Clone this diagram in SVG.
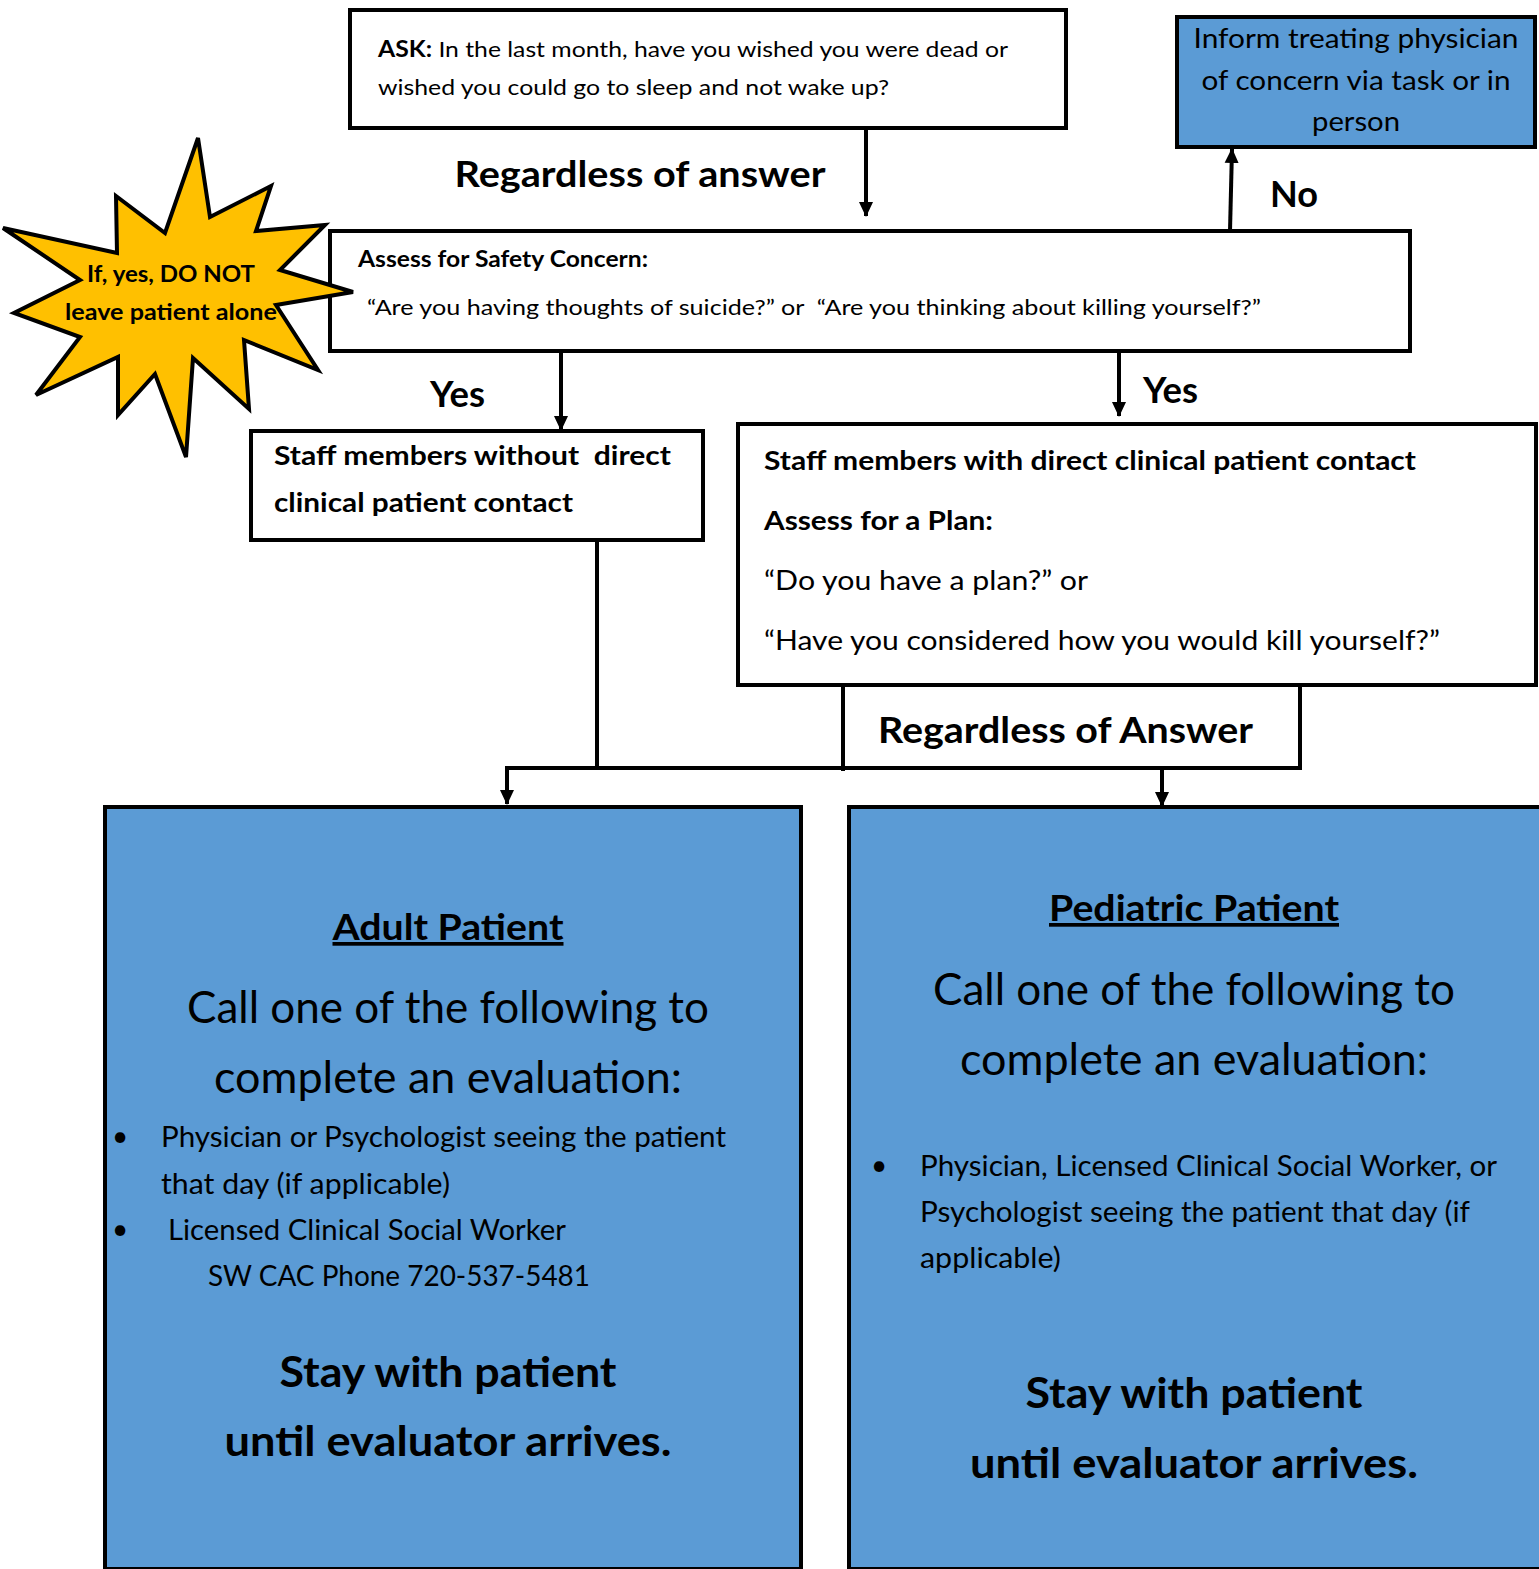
<svg xmlns="http://www.w3.org/2000/svg" width="1539" height="1569" viewBox="0 0 1539 1569">
<style>
text{font-family:Lato,"Open Sans","Liberation Sans",sans-serif;fill:#000}
.b{font-weight:bold}
.pre{white-space:pre}
.box{fill:#fff;stroke:#000;stroke-width:4}
.blue{fill:#5B9BD5;stroke:#000;stroke-width:4}
.star{fill:#FFC000;stroke:#000;stroke-width:4;stroke-linejoin:miter}
.ln{fill:none;stroke:#000;stroke-width:4}
.arr{fill:none;stroke:#000;stroke-width:4;marker-end:url(#ah)}
.lbl{font-size:37px;font-weight:bold}
.s22{font-size:22px}
.s26{font-size:26px}
.s28{font-size:28px}
.s44{font-size:44px}
.s42{font-size:42px;font-weight:bold}
.m{text-anchor:middle}
</style>
<defs>
<marker id="ah" markerUnits="userSpaceOnUse" markerWidth="15" markerHeight="16" refX="14" refY="7" orient="auto" viewBox="0 0 15 14">
<path d="M0,0 L15,7 L0,14 z" fill="#000"/>
</marker>
</defs>
<rect width="1539" height="1569" fill="#fff"/>

<g id="connectors">
<line class="arr" x1="866" y1="128" x2="866" y2="216"/>
<line class="arr" x1="1230" y1="231" x2="1232" y2="149"/>
<line class="arr" x1="561" y1="351" x2="561" y2="430"/>
<line class="arr" x1="1119" y1="351" x2="1119" y2="416"/>
<line class="ln" x1="597" y1="538" x2="597" y2="768"/>
<line class="ln" x1="505" y1="768" x2="1302" y2="768"/>
<line class="ln" x1="843" y1="685" x2="843" y2="771"/>
<line class="ln" x1="1300" y1="685" x2="1300" y2="770"/>
<line class="arr" x1="507" y1="766" x2="507" y2="804"/>
<line class="arr" x1="1162" y1="766" x2="1162" y2="806"/>
<text class="lbl" x="640" y="187" textLength="371" lengthAdjust="spacingAndGlyphs" text-anchor="middle">Regardless of answer</text>
<text class="lbl" x="1270" y="207" textLength="48" lengthAdjust="spacingAndGlyphs">No</text>
<text class="lbl" x="430" y="407" textLength="55" lengthAdjust="spacingAndGlyphs">Yes</text>
<text class="lbl" x="1143" y="403" textLength="55" lengthAdjust="spacingAndGlyphs">Yes</text>
<text class="lbl" x="878" y="743" textLength="375" lengthAdjust="spacingAndGlyphs">Regardless of Answer</text>
</g>

<g id="ask">
<rect class="box" x="350" y="10" width="716" height="118"/>
<text class="s22" x="378" y="57" textLength="630" lengthAdjust="spacingAndGlyphs"><tspan class="b">ASK:</tspan> In the last month, have you wished you were dead or</text>
<text class="s22" x="378" y="95" textLength="511" lengthAdjust="spacingAndGlyphs">wished you could go to sleep and not wake up?</text>
</g>

<g id="inform">
<rect class="blue" x="1177" y="17" width="358" height="130"/>
<text class="s26 m" x="1356" y="48" textLength="325" lengthAdjust="spacingAndGlyphs">Inform treating physician</text>
<text class="s26 m" x="1356" y="90" textLength="309" lengthAdjust="spacingAndGlyphs">of concern via task or in</text>
<text class="s26 m" x="1356" y="131" textLength="88" lengthAdjust="spacingAndGlyphs">person</text>
</g>

<g id="safety">
<rect class="box" x="330" y="231" width="1080" height="120"/>
<text class="s22 b" x="358" y="267" textLength="290" lengthAdjust="spacingAndGlyphs">Assess for Safety Concern:</text>
<text class="s22 pre" x="367" y="315" textLength="894" lengthAdjust="spacingAndGlyphs">“Are you having thoughts of suicide?” or  “Are you thinking about killing yourself?”</text>
</g>

<g id="star">
<polygon class="star" points="198,138 210,217 271,186 256,231 325,225 280,270 353,292 276,305 318,370 244,340 249,409 193,358 186,457 155,374 118,415 118,357 36,395 80,337 14,313 80,280 3,228 117,253 116,196 165,233"/>
<text class="s22 b m" x="171" y="282" textLength="168" lengthAdjust="spacingAndGlyphs">If, yes, DO NOT</text>
<text class="s22 b m" x="171" y="320" textLength="212" lengthAdjust="spacingAndGlyphs">leave patient alone</text>
</g>

<g id="staff-without">
<rect class="box" x="251" y="431" width="452" height="109"/>
<text class="s26 b pre" x="274" y="465" textLength="397" lengthAdjust="spacingAndGlyphs">Staff members without  direct</text>
<text class="s26 b" x="274" y="512" textLength="299" lengthAdjust="spacingAndGlyphs">clinical patient contact</text>
</g>

<g id="staff-with">
<rect class="box" x="738" y="424" width="798" height="261"/>
<text class="s26 b" x="764" y="470" textLength="652" lengthAdjust="spacingAndGlyphs">Staff members with direct clinical patient contact</text>
<text class="s26 b" x="764" y="530" textLength="229" lengthAdjust="spacingAndGlyphs">Assess for a Plan:</text>
<text class="s26" x="764" y="590" textLength="324" lengthAdjust="spacingAndGlyphs">“Do you have a plan?” or</text>
<text class="s26" x="764" y="650" textLength="676" lengthAdjust="spacingAndGlyphs">“Have you considered how you would kill yourself?”</text>
</g>

<g id="adult">
<rect class="blue" x="105" y="807" width="696" height="762"/>
<text class="b m" font-size="37" x="448" y="940" textLength="231" lengthAdjust="spacingAndGlyphs" text-decoration="underline">Adult Patient</text>
<text class="s44 m" x="448" y="1023" textLength="522" lengthAdjust="spacingAndGlyphs">Call one of the following to</text>
<text class="s44 m" x="448" y="1093" textLength="468" lengthAdjust="spacingAndGlyphs">complete an evaluation:</text>
<text class="s28" x="112" y="1146">•</text>
<text class="s28" x="161" y="1147" textLength="565" lengthAdjust="spacingAndGlyphs">Physician or Psychologist seeing the patient</text>
<text class="s28" x="161" y="1194" textLength="289" lengthAdjust="spacingAndGlyphs">that day (if applicable)</text>
<text class="s28" x="112" y="1239">•</text>
<text class="s28" x="168" y="1240" textLength="398" lengthAdjust="spacingAndGlyphs">Licensed Clinical Social Worker</text>
<text class="s28" x="208" y="1286" textLength="382" lengthAdjust="spacingAndGlyphs">SW CAC Phone 720-537-5481</text>
<text class="s42 m" x="448" y="1387" textLength="337" lengthAdjust="spacingAndGlyphs">Stay with patient</text>
<text class="s42 m" x="448" y="1456" textLength="447" lengthAdjust="spacingAndGlyphs">until evaluator arrives.</text>
</g>

<g id="pediatric">
<rect class="blue" x="849" y="807" width="696" height="762"/>
<text class="b m" font-size="37" x="1194" y="921" textLength="290" lengthAdjust="spacingAndGlyphs" text-decoration="underline">Pediatric Patient</text>
<text class="s44 m" x="1194" y="1005" textLength="522" lengthAdjust="spacingAndGlyphs">Call one of the following to</text>
<text class="s44 m" x="1194" y="1075" textLength="468" lengthAdjust="spacingAndGlyphs">complete an evaluation:</text>
<text class="s28" x="871" y="1175">•</text>
<text class="s28" x="920" y="1176" textLength="577" lengthAdjust="spacingAndGlyphs">Physician, Licensed Clinical Social Worker, or</text>
<text class="s28" x="920" y="1222" textLength="550" lengthAdjust="spacingAndGlyphs">Psychologist seeing the patient that day (if</text>
<text class="s28" x="920" y="1268" textLength="141" lengthAdjust="spacingAndGlyphs">applicable)</text>
<text class="s42 m" x="1194" y="1408" textLength="337" lengthAdjust="spacingAndGlyphs">Stay with patient</text>
<text class="s42 m" x="1194" y="1478" textLength="448" lengthAdjust="spacingAndGlyphs">until evaluator arrives.</text>
</g>
</svg>
